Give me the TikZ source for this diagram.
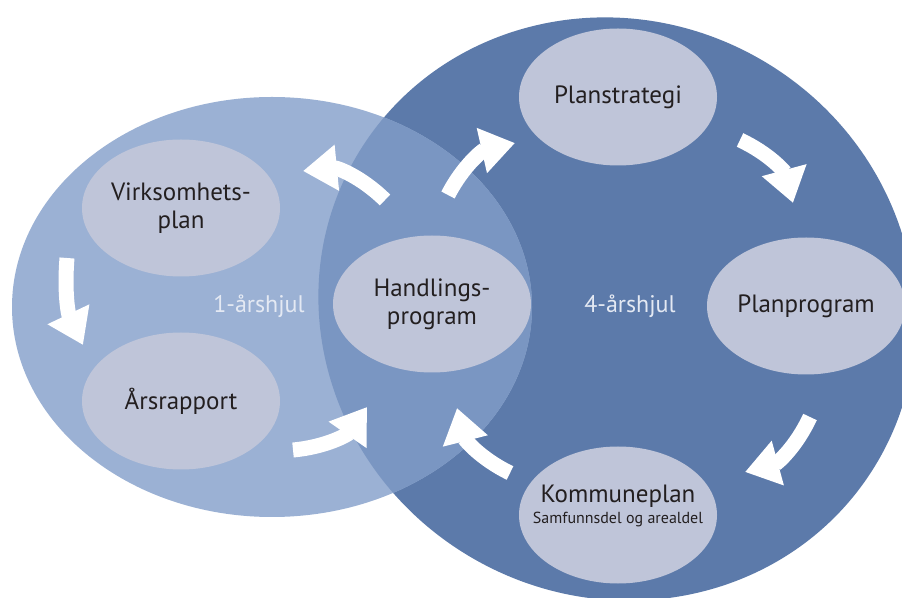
\documentclass[tikz,border=0pt]{standalone}
\usepackage{fontspec}
\setmainfont{PT Sans}
\usetikzlibrary{arrows.meta,shapes.geometric}
\definecolor{wheellight}{RGB}{155,177,212}
\definecolor{wheeldark}{RGB}{92,122,170}
\definecolor{wheelmix}{RGB}{122,150,194}
\definecolor{stepfill}{RGB}{191,197,217}
\definecolor{steptext}{RGB}{35,31,32}
\definecolor{wheeltext}{RGB}{228,233,243}

\begin{document}
\begin{tikzpicture}[x=1pt,y=1pt,
  stepnode/.style={ellipse,fill=stepfill,draw=none,inner sep=0pt,
    minimum width=198pt,minimum height=137pt,align=center,
    text=steptext,font=\fontsize{25}{28}\selectfont},
  wheellabel/.style={text=wheeltext,font=\fontsize{24}{27}\selectfont},
  cyclearrow/.style={draw=white,line width=15pt,
    -{Triangle[width=44pt,length=34pt]}},
  bigwheel/.style={rotate around={-30:(617,288)}}]

% canvas
\clip (0,0) rectangle (902,597);
\fill[white] (0,0) rectangle (902,597);

% the two wheels and their overlap
\fill[wheeldark,bigwheel] (617,288) ellipse [x radius=302, y radius=288];
\fill[wheellight] (272,290) ellipse [x radius=260, y radius=210];
\begin{scope}
  \clip (272,290) ellipse [x radius=260, y radius=210];
  \fill[wheelmix,bigwheel] (617,288) ellipse [x radius=302, y radius=288];
\end{scope}

% steps
\node[stepnode] (virk) at (181,389) {Virksomhets-\\plan};
\node[stepnode] (aars) at (181,196) {Årsrapport};
\node[stepnode] (hand) at (432,293) {Handlings-\\program};
\node[stepnode] (plans) at (618,500) {Planstrategi};
\node[stepnode] (planp) at (806,291) {Planprogram};
\node[stepnode] (komm) at (618,82) {};
\node[text=steptext,font=\fontsize{25}{28}\selectfont] (kommA) at (618,101) {Kommuneplan};
\node[text=steptext,font=\fontsize{16}{18}\selectfont] (kommB) at (618,78) {Samfunnsdel og arealdel};

% wheel labels
\node[wheellabel] (one) at (259,291) {1-årshjul};
\node[wheellabel] (four) at (630,291) {4-årshjul};

% arrow ends
\coordinate (a1s) at (385,397); \coordinate (a1e) at (303,426);
\coordinate (a2s) at (448,402); \coordinate (a2e) at (515,454);
\coordinate (a3s) at (740,457); \coordinate (a3e) at (793,394);
\coordinate (a4s) at (810,180); \coordinate (a4e) at (745,125);
\coordinate (a5s) at (510,124); \coordinate (a5e) at (457,189);
\coordinate (a6s) at (293,147); \coordinate (a6e) at (367,190);
\coordinate (a7s) at (67,339);  \coordinate (a7e) at (83,252);

% cycle arrows
\draw[cyclearrow] (a1s) to[bend right=25] (a1e);
\draw[cyclearrow] (a2s) to[bend left=25] (a2e);
\draw[cyclearrow] (a3s) to[bend left=25] (a3e);
\draw[cyclearrow] (a4s) to[bend left=25] (a4e);
\draw[cyclearrow] (a5s) to[bend left=25] (a5e);
\draw[cyclearrow] (a6s) to[bend right=25] (a6e);
\draw[cyclearrow] (a7s) to[bend right=15] (a7e);
\end{tikzpicture}
\end{document}
